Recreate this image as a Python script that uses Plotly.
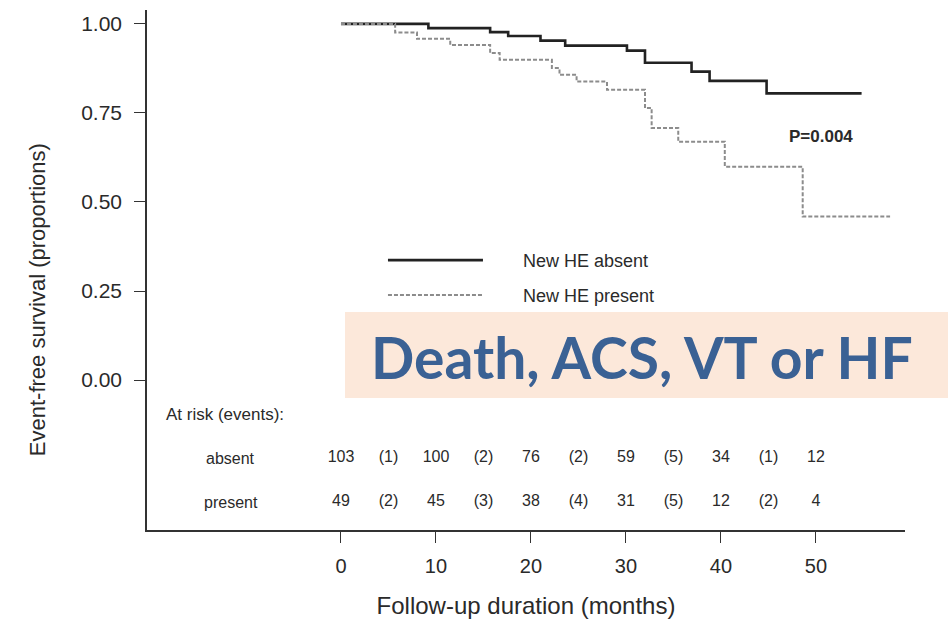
import plotly.graph_objects as go

# ---- data ----
months_absent = [0, 9.2, 15.7, 17.6, 21.0, 23.6, 30.1, 32.0, 36.9, 38.8, 44.8, 54.8]
surv_absent = [1.0, 0.988, 0.977, 0.966, 0.953, 0.939, 0.925, 0.891, 0.866, 0.840, 0.805, 0.805]

months_present = [0, 5.7, 8.0, 11.5, 15.7, 16.7, 22.2, 23.0, 24.8, 28.0, 32.0, 32.7, 35.5, 40.4, 48.6, 57.8]
surv_present = [1.0, 0.976, 0.958, 0.941, 0.918, 0.899, 0.876, 0.857, 0.838, 0.815, 0.764, 0.708, 0.669, 0.599, 0.459, 0.459]

risk_months = [0, 10, 20, 30, 40, 50]
atrisk_absent = [103, 100, 76, 59, 34, 12]
atrisk_present = [49, 45, 38, 31, 12, 4]
event_months = [5, 15, 25, 35, 45]
events_absent = [1, 2, 2, 5, 1]
events_present = [2, 3, 4, 5, 2]

x_ticks = [0, 10, 20, 30, 40, 50]
y_ticks = [0.0, 0.25, 0.5, 0.75, 1.0]

FONT = "Liberation Sans, Arial, sans-serif"
TXT = "#2a2a2a"
PAD = "\u00a0" * 7  # gap between legend sample and its label

fig = go.Figure()
fig.add_trace(go.Scatter(
    x=months_absent, y=surv_absent, mode="lines", name=PAD + "New HE absent",
    line=dict(shape="hv", color="#222222", width=2.6), legend="legend"))
fig.add_trace(go.Scatter(
    x=months_present, y=surv_present, mode="lines", name=PAD + "New HE present",
    line=dict(shape="hv", color="#8c8c8c", width=2, dash="4px,2px"), legend="legend2"))

# at-risk table rows
def row(atrisk, events):
    xs, ts = [], []
    for i, m in enumerate(risk_months):
        xs.append(m); ts.append(str(atrisk[i]))
        if i < len(events):
            xs.append(event_months[i]); ts.append("(%d)" % events[i])
    return xs, ts

ROW_Y = {"absent": -0.219, "present": -0.343}
for key, a, e in [("absent", atrisk_absent, events_absent), ("present", atrisk_present, events_present)]:
    xs, ts = row(a, e)
    fig.add_trace(go.Scatter(
        x=xs, y=[ROW_Y[key]] * len(xs), mode="text", text=ts, showlegend=False,
        textfont=dict(family=FONT, size=16, color=TXT), hoverinfo="skip"))
    fig.add_annotation(x=-11.6, y=ROW_Y[key], text=key, showarrow=False, xref="x", yref="y",
                       font=dict(family=FONT, size=16, color=TXT))

fig.add_annotation(x=-18.6, y=-0.098, text="At risk (events):", showarrow=False, xanchor="left",
                   font=dict(family=FONT, size=17, color=TXT))
fig.add_annotation(x=50.5, y=0.683, text="<b>P=0.004</b>", showarrow=False,
                   font=dict(family=FONT, size=17, color=TXT))

# y title
fig.add_annotation(xref="paper", yref="paper", x=0, xshift=-110, xanchor="center", y=0.442,
                   text="Event-free survival (proportions)", textangle=-90, showarrow=False,
                   font=dict(family=FONT, size=22, color=TXT))

# highlighted label box
fig.add_shape(type="rect", xref="paper", yref="paper", x0=0.2612, x1=1.06, y0=0.2538, y1=0.4192,
              fillcolor="#FCE8DA", line=dict(width=0), layer="above")
fig.add_annotation(xref="paper", yref="paper", x=0.653, y=0.3327, yshift=-36, text="<b>Death, ACS, VT or HF</b>",
                   showarrow=False, font=dict(family="Lato, Open Sans, sans-serif", size=57, color="#3A6194"))

fig.update_layout(
    width=948, height=624, margin=dict(l=147, r=43, t=10, b=94),
    paper_bgcolor="white", plot_bgcolor="white",
    font=dict(family=FONT, color=TXT),
    legend=dict(x=0.3113, y=0.554, xanchor="left", yanchor="top", itemwidth=95,
                font=dict(family=FONT, size=18, color=TXT), bgcolor="rgba(0,0,0,0)"),
    legend2=dict(x=0.3113, y=0.487, xanchor="left", yanchor="top", itemwidth=95,
                 font=dict(family=FONT, size=18, color=TXT), bgcolor="rgba(0,0,0,0)"),
    xaxis=dict(range=[-20.42, 59.37], tickvals=x_ticks, ticks="outside", ticklen=11, tickwidth=1.3,
               tickcolor="#333", showline=True, linecolor="#333", linewidth=1.5, showgrid=False,
               zeroline=False, tickfont=dict(family=FONT, size=20, color=TXT), ticklabelstandoff=6,
               title=dict(text="Follow-up duration (months)", font=dict(family=FONT, size=24, color=TXT), standoff=21)),
    yaxis=dict(range=[-0.421, 1.039], tickvals=y_ticks, tickformat=".2f", ticks="outside", ticklen=11,
               tickwidth=1.3, tickcolor="#333", showline=True, linecolor="#333", linewidth=1.5,
               showgrid=False, zeroline=False, tickfont=dict(family=FONT, size=21, color=TXT),
               ticklabelstandoff=8),
)

fig.write_html("out.html")
